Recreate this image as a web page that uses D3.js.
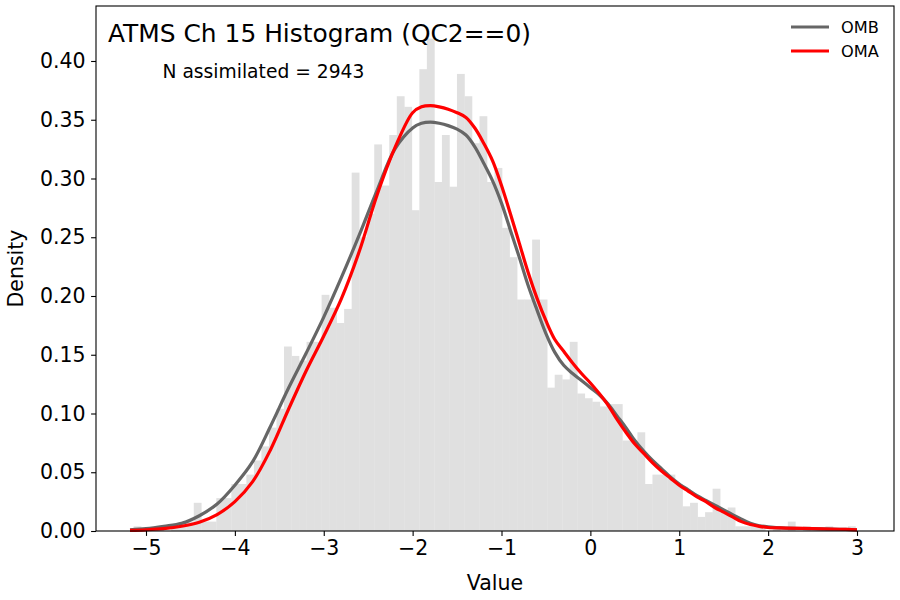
<!DOCTYPE html>
<html><head><meta charset="utf-8">
<script src="https://cdn.jsdelivr.net/npm/d3@7"></script>
<style>body{margin:0;background:#fff} text{font-family:"DejaVu Sans",sans-serif}</style>
</head><body><svg id="c" width="900" height="600"></svg>
<script>
// ---------- data ----------
const binStart = -5.1395;
const binWidth = 0.08461;
const histDensity = [
  0.004,0,0,0.004,0,0.004,0.004,0.008,0.024,0.008,
  0.008,0.028,0.028,0.040,0.040,0.048,0.060,0.072,0.088,0.104,
  0.157,0.149,0.145,0.161,0.161,0.201,0.190,0.177,0.189,0.305,
  0.250,0.270,0.329,0.294,0.337,0.370,0.361,0.273,0.393,0.419,
  0.297,0.337,0.293,0.389,0.370,0.330,0.353,0.297,0.309,0.258,
  0.233,0.197,0.197,0.248,0.197,0.122,0.133,0.129,0.161,0.117,
  0.113,0.110,0.106,0.108,0.108,0.077,0.077,0.084,0.040,0.048,
  0.048,0.048,0.040,0.021,0.024,0.012,0.016,0.036,0.016,0.020,
  0.004,0.004,0.004,0.004,0,0.004,0,0.008,0,0.004,
  0,0,0.004,0,0,0.004
];
const kdeX = [-5.18,-5.0,-4.8,-4.6,-4.4,-4.2,-4.0,-3.8,-3.6,-3.4,-3.2,-3.0,-2.8,-2.6,-2.4,-2.2,-2.0,-1.9,-1.8,-1.7,-1.6,-1.5,-1.4,-1.3,-1.2,-1.1,-1.0,-0.9,-0.8,-0.7,-0.6,-0.5,-0.4,-0.3,-0.2,-0.1,0.0,0.1,0.2,0.3,0.4,0.5,0.6,0.7,0.8,0.9,1.0,1.1,1.2,1.3,1.4,1.5,1.6,1.7,1.8,1.9,2.0,2.2,2.5,2.8,3.0];
const ombY = [0.001,0.002,0.004,0.0065,0.013,0.023,0.039,0.059,0.089,0.121,0.151,0.182,0.216,0.252,0.290,0.325,0.343,0.347,0.348,0.347,0.345,0.342,0.337,0.327,0.313,0.298,0.279,0.256,0.233,0.209,0.188,0.168,0.152,0.141,0.134,0.128,0.122,0.116,0.108,0.098,0.088,0.077,0.068,0.060,0.053,0.046,0.040,0.035,0.030,0.026,0.022,0.018,0.014,0.010,0.0065,0.0045,0.0035,0.0025,0.002,0.0015,0.001];
const omaY = [0.0005,0.001,0.002,0.004,0.0075,0.014,0.025,0.042,0.069,0.103,0.136,0.166,0.198,0.238,0.286,0.326,0.356,0.361,0.362,0.361,0.359,0.356,0.352,0.343,0.330,0.315,0.294,0.270,0.245,0.220,0.198,0.179,0.163,0.153,0.143,0.134,0.126,0.117,0.107,0.095,0.084,0.074,0.066,0.058,0.051,0.045,0.039,0.034,0.029,0.025,0.020,0.016,0.012,0.008,0.0055,0.004,0.003,0.0025,0.002,0.0015,0.001];
const seriesNames = ["OMB","OMA"];
const seriesColors = ["#666666","#ff0000"];
const xTicks = [-5,-4,-3,-2,-1,0,1,2,3];
const yTicks = [0,0.05,0.10,0.15,0.20,0.25,0.30,0.35,0.40];
const titleText = "ATMS Ch 15 Histogram (QC2==0)";
const noteText = "N assimilated = 2943";
const xLabel = "Value", yLabel = "Density";

// ---------- layout ----------
const M = {left:96, top:6, right:894, bottom:531};
const svg = d3.select("#c");
const x = d3.scaleLinear().domain([-5.5626, 3.4163]).range([M.left, M.right]);
const y = d3.scaleLinear().domain([0, 0.4468]).range([M.bottom, M.top]);

const bins = histDensity.map((d,i)=>({x0:binStart+i*binWidth, x1:binStart+(i+1)*binWidth, v:d}));
svg.append("g").selectAll("rect").data(bins).join("rect")
  .attr("x", d=>x(d.x0)).attr("width", d=>x(d.x1)-x(d.x0)+0.3)
  .attr("y", d=>y(d.v)).attr("height", d=>y(0)-y(d.v))
  .attr("fill","#e0e0e0");

const line = d3.line().x(d=>x(d[0])).y(d=>y(d[1])).curve(d3.curveCatmullRom.alpha(0.5));
[ombY, omaY].forEach((ys,si)=>{
  svg.append("path").datum(kdeX.map((v,i)=>[v,ys[i]]))
    .attr("d",line).attr("fill","none").attr("stroke",seriesColors[si])
    .attr("stroke-width",3.2).attr("stroke-linejoin","round");
});

// axes
const fs = 20.5;
const gx = svg.append("g").attr("transform",`translate(0,${M.bottom})`)
  .call(d3.axisBottom(x).tickValues(xTicks).tickSize(4.9).tickPadding(4.5).tickFormat(d=>d<0?"\u2212"+Math.abs(d):d));
const gy = svg.append("g").attr("transform",`translate(${M.left},0)`)
  .call(d3.axisLeft(y).tickValues(yTicks).tickSize(4.9).tickPadding(5.5).tickFormat(d3.format(".2f")));
[gx,gy].forEach(g=>{
  g.select(".domain").remove();
  g.selectAll("line").attr("stroke","#000").attr("stroke-width",1.1);
  g.selectAll("text").attr("font-size",fs).attr("fill","#000").attr("font-family","DejaVu Sans");
});
svg.append("rect").attr("x",M.left).attr("y",M.top).attr("width",M.right-M.left).attr("height",M.bottom-M.top)
  .attr("fill","none").attr("stroke","#000").attr("stroke-width",1.1);

svg.append("text").attr("x",(M.left+M.right)/2).attr("y",590).attr("text-anchor","middle")
  .attr("font-size",fs).text(xLabel);
svg.append("text").attr("transform",`translate(23,${(M.top+M.bottom)/2}) rotate(-90)`).attr("text-anchor","middle")
  .attr("font-size",fs).text(yLabel);

svg.append("text").attr("x",108).attr("y",42).attr("font-size",24.9).text(titleText);
svg.append("text").attr("x",162.5).attr("y",78).attr("font-size",18.7).text(noteText);

// legend
seriesNames.forEach((n,i)=>{
  const yy = 27 + i*24;
  svg.append("line").attr("x1",791).attr("x2",829).attr("y1",yy).attr("y2",yy)
    .attr("stroke",seriesColors[i]).attr("stroke-width",3.2);
  svg.append("text").attr("x",841).attr("y",yy).attr("dy","0.36em").attr("font-size",16.2).text(n);
});
</script></body></html>
